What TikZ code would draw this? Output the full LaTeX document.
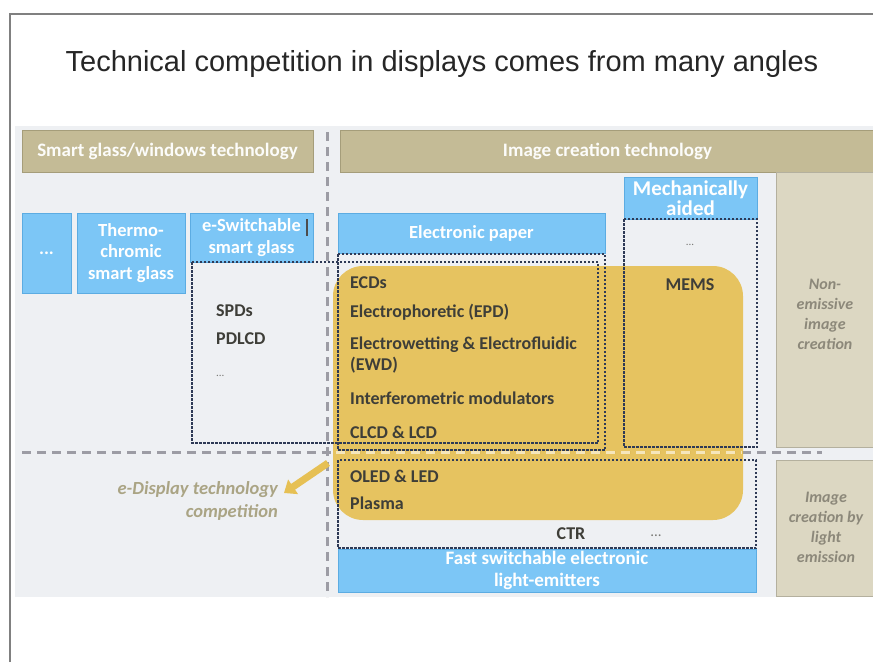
\documentclass[tikz,border=0pt]{standalone}
\usepackage{fontspec}
\usetikzlibrary{arrows.meta}
\newfontfamily\carl{Carlito}
\newfontfamily\arialf{Liberation Sans}
\definecolor{bgpanel}{RGB}{238,240,243}
\definecolor{blueF}{RGB}{124,198,246}
\definecolor{blueD}{RGB}{92,172,226}
\definecolor{tanF}{RGB}{196,187,150}
\definecolor{tanD}{RGB}{165,157,122}
\definecolor{sideF}{RGB}{220,215,194}
\definecolor{sideD}{RGB}{180,176,158}
\definecolor{sideT}{RGB}{140,136,122}
\definecolor{goldF}{RGB}{230,192,84}
\definecolor{dotC}{RGB}{46,58,86}
\definecolor{grayDash}{RGB}{156,156,164}
\definecolor{itemT}{RGB}{62,62,56}
\definecolor{noteT}{RGB}{170,164,132}
\definecolor{frameC}{RGB}{128,128,128}
\tikzset{
  bluebox/.style={fill=blueF, draw=blueD, line width=1pt, text=white, inner sep=0pt, align=center,
    font=\carl\bfseries\fontsize{18.5}{21.5}\selectfont},
  tanhead/.style={fill=tanF, draw=tanD, line width=1pt, text=white!95!tanF, inner sep=0pt, align=center,
    font=\carl\bfseries\fontsize{19}{22}\selectfont},
  sidebox/.style={fill=sideF, draw=sideD, line width=1pt, inner sep=0pt},
  sidetext/.style={text=sideT, inner sep=0pt, align=center,
    font=\carl\bfseries\itshape\fontsize{16}{20}\selectfont},
  itemtext/.style={anchor=west, inner sep=0pt, text=itemT, font=\carl\bfseries\fontsize{18}{21}\selectfont},
  dotstext/.style={inner sep=0pt, text=itemT!70, font=\carl\fontsize{11}{12}\selectfont},
  notetext/.style={anchor=east, inner sep=0pt, text=noteT, font=\carl\bfseries\itshape\fontsize{18.5}{22}\selectfont},
  dotbox/.style={draw=dotC, line width=1.1pt, dash pattern=on 2.5pt off 1.5pt},
  graydash/.style={draw=grayDash, line width=3pt, dash pattern=on 9pt off 6pt},
}
\begin{document}
\begin{tikzpicture}[x=1pt,y=-1pt]
\useasboundingbox (0,0) rectangle (873,662);
\fill[white] (0,0) rectangle (873,662);
% slide frame
\draw[frameC, line width=2.5pt] (10,662) -- (10,14) -- (873,14);
% title
\node[inner sep=0pt, text=black!85, font=\arialf\fontsize{29}{32}\selectfont] (title) at (442,64) {Technical competition in displays comes from many angles};
% background panel
\fill[bgpanel] (15,126) rectangle (873,597);
% headers
\node[tanhead, minimum width=291, minimum height=42] (hsmart) at (167.5,151) {Smart glass/windows technology};
\node[tanhead, minimum width=540, minimum height=42, anchor=west] (himage) at (340,151) {\hspace*{-6pt}Image creation technology};
% side boxes
\node[sidebox, minimum width=100, minimum height=275, anchor=north west] (nonem) at (776,172) {};
\node[sidetext] (nonemT) at (825,314) {Non-\\emissive\\image\\creation};
\node[sidebox, minimum width=100, minimum height=136, anchor=north west] (emis) at (776,460) {};
\node[sidetext] (emisT) at (826,527) {Image\\creation by\\light\\emission};
% blue boxes
\node[bluebox, minimum width=49, minimum height=80] (bdots) at (46.5,253) {...};
\node[bluebox, minimum width=108, minimum height=80] (thermo) at (131,253) {Thermo-\\chromic\\smart glass};
\node[bluebox, minimum width=123, minimum height=49] (eswitch) at (251.5,237.5) {e-Switchable\\smart glass};
\draw[black!70, line width=1.2pt] (307,219) -- (307,236);
\node[bluebox, minimum width=267, minimum height=40] (epaper) at (471.5,233) {Electronic paper};
\node[bluebox, minimum width=133, minimum height=42, font=\carl\bfseries\fontsize{21}{20}\selectfont] (mech) at (690.5,198) {Mechanically\\aided};
\node[bluebox, minimum width=418, minimum height=43, font=\carl\bfseries\fontsize{19}{22}\selectfont] (fast) at (547,570.5) {Fast switchable electronic\\light-emitters};
% gray dashed separators
\draw[graydash] (22,452) -- (822,452);
% gold region
\fill[goldF, opacity=0.92, rounded corners=30pt] (333,266) rectangle (743,520);
\draw[graydash, draw=white!60!goldF] (336,452) -- (742,452);
\draw[graydash] (327,132) -- (327,597);
% dotted groups
\draw[dotbox] (192,262) rectangle (598,443);
\draw[dotbox] (338,254) rectangle (605,450);
\draw[dotbox] (624,219) rectangle (757,447);
\draw[dotbox] (338,460) rectangle (756,548);
% items
\node[itemtext] (spd) at (216,311) {SPDs};
\node[itemtext] (pdlcd) at (216,339) {PDLCD};
\node[dotstext, anchor=west] (sdots) at (216,376) {...};
\node[itemtext] (ecd) at (350,283) {ECDs};
\node[itemtext] (epd) at (350,312) {Electrophoretic (EPD)};
\node[itemtext, align=left] (ewd) at (350,355) {Electrowetting \& Electrofluidic\\(EWD)};
\node[itemtext] (imod) at (350,398) {Interferometric modulators};
\node[itemtext] (clcd) at (350,432) {CLCD \& LCD};
\node[dotstext] (mdots) at (690,245) {...};
\node[itemtext, anchor=center] (mems) at (690,285) {MEMS};
\node[itemtext] (oled) at (350,476) {OLED \& LED};
\node[itemtext] (plasma) at (350,503) {Plasma};
\node[itemtext, anchor=center] (ctr) at (571,534) {CTR};
\node[dotstext, font=\carl\fontsize{15}{16}\selectfont] (cdots) at (656,536) {...};
% note and arrow
\node[notetext] (note1) at (278,490) {e-Display technology};
\node[notetext] (note2) at (278,512) {competition};
\coordinate (arrS) at (328,463);
\coordinate (arrE) at (284,493);
\draw[goldF, line width=7pt, -{Triangle[width=17pt,length=11pt]}] (arrS) -- (arrE);
\end{tikzpicture}
\end{document}
